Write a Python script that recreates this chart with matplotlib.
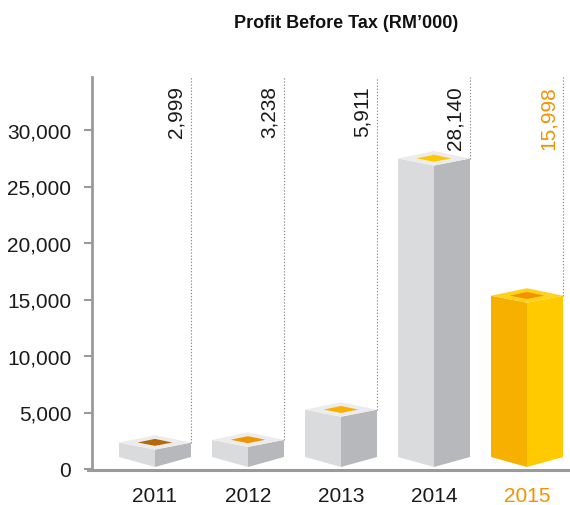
import matplotlib
matplotlib.use("Agg")
import matplotlib.pyplot as plt
from matplotlib.patches import Polygon
from matplotlib.ticker import FuncFormatter

years = ["2011", "2012", "2013", "2014", "2015"]
profit = [2999, 3238, 5911, 28140, 15998]
value_labels = ["2,999", "3,238", "5,911", "28,140", "15,998"]
yticks = [0, 5000, 10000, 15000, 20000, 25000, 30000]

gray_faces = ("#d9dbdd", "#b6b8bb", "#ececed")
gold_faces = ("#f7b000", "#ffcb00", "#ffd21a")
inner_colors = ["#b5690a", "#f29400", "#f8b000", "#ffc700", "#f29400"]
label_colors = ["#1a1a1a", "#1a1a1a", "#1a1a1a", "#1a1a1a", "#f39200"]

FONT = ["Liberation Sans", "DejaVu Sans"]
plt.rcParams["font.family"] = FONT

fig = plt.figure(figsize=(5.70, 5.06), dpi=100)
ax = fig.add_axes([92 / 570, 36 / 506, 478 / 570, 392 / 506])
px_y = 5000 / 56.5  # data units per pixel (vertical)
ax.set_xlim(-0.677, 4.462)
ax.set_ylim(0, 392 * px_y)

hw = 0.387          # half width of a box
side_drop = 7.5 * px_y
front_drop = 14.5 * px_y
bot_side = 12 * px_y
bot_mid = 2 * px_y

for i, v in enumerate(profit):
    left, right = gray_faces[:2] if i < 4 else gold_faces[:2]
    topc = gray_faces[2] if i < 4 else gold_faces[2]
    xl, xm, xr = i - hw, i, i + hw
    ys = v - side_drop
    yf = v - front_drop
    ax.add_patch(Polygon([(xl, bot_side), (xm, bot_mid), (xm, yf), (xl, ys)],
                         closed=True, facecolor=left, edgecolor="none", zorder=3))
    ax.add_patch(Polygon([(xm, bot_mid), (xr, bot_side), (xr, ys), (xm, yf)],
                         closed=True, facecolor=right, edgecolor="none", zorder=3))
    ax.add_patch(Polygon([(xl, ys), (xm, v), (xr, ys), (xm, yf)],
                         closed=True, facecolor=topc, edgecolor="none", zorder=3))
    cy = (v + yf) / 2
    s = 0.48
    ax.add_patch(Polygon([(xm - hw * s, cy + (ys - cy) * s), (xm, cy + (v - cy) * s),
                          (xm + hw * s, cy + (ys - cy) * s), (xm, cy + (yf - cy) * s)],
                         closed=True, facecolor=inner_colors[i], edgecolor="none", zorder=4))
    # dotted leader
    ax.plot([xr, xr], [ys, 392 * px_y], color="#8a8a8a", lw=0.8,
            linestyle=(0, (1.2, 1.6)), zorder=2)
    ax.text(i + 0.33, (470 - 86) * px_y, value_labels[i], rotation=90,
            ha="right", va="top", fontsize=15, color=label_colors[i], zorder=5)
    # category label
    ax.text(i, -32 / 392, years[i], transform=ax.get_xaxis_transform(),
            ha="center", va="baseline", fontsize=15, color=label_colors[i],
            clip_on=False)

ax.set_yticks(yticks)
ax.yaxis.set_major_formatter(FuncFormatter(lambda v, p: f"{int(v):,}"))
ax.set_xticks([])
ax.tick_params(axis="y", length=6, width=1.5, color="#9a9a9c", labelsize=15,
               pad=9, labelcolor="#1a1a1a")

for sp in ("top", "right"):
    ax.spines[sp].set_visible(False)
ax.spines["left"].set_color("#9a9a9c")
ax.spines["left"].set_linewidth(2)
ax.spines["bottom"].set_color("#9a9a9c")
ax.spines["bottom"].set_linewidth(2.2)
ax.spines["bottom"].set_position(("outward", 1))
ax.spines["bottom"].set_bounds(-0.72, 4.462)
ax.set_facecolor("none")

fig.text(346 / 570, 1 - 23 / 506, "Profit Before Tax (RM\u2019000)", ha="center", va="center",
         fontsize=13, fontweight="bold",
         family=["Liberation Sans Narrow", "Liberation Sans", "DejaVu Sans"], color="#111111")

fig.savefig("out.png", dpi=100)
